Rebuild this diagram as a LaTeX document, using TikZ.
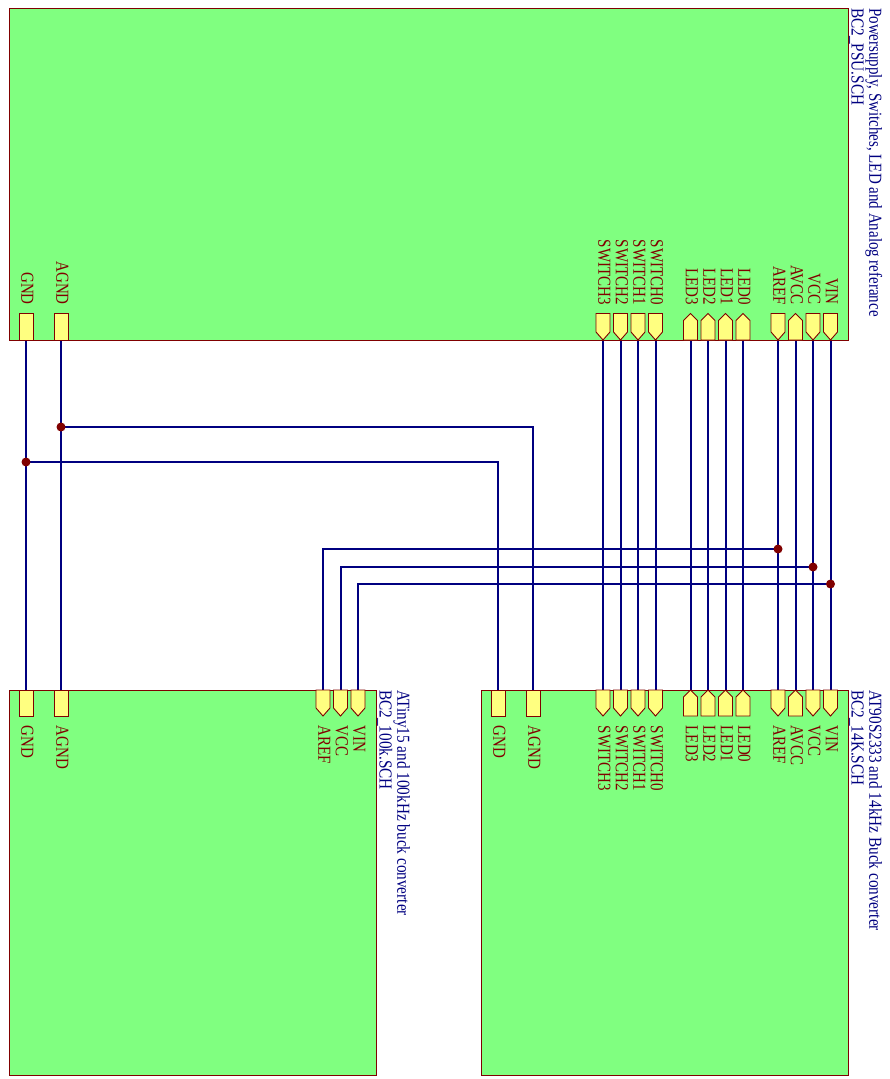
\documentclass[tikz,border=0pt]{standalone}
\usepackage{fontspec}
\usetikzlibrary{backgrounds}
\setmainfont{Liberation Serif}
\definecolor{sheetgreen}{HTML}{80FF80}
\definecolor{pinyellow}{HTML}{FFFF80}
\definecolor{maroonline}{HTML}{800000}
\definecolor{wirenavy}{HTML}{000080}
\tikzset{
  x=1pt,y=-1pt,
  sheetbox/.style={draw=maroonline,fill=sheetgreen,line width=0.8pt},
  pinshape/.style={draw=maroonline,fill=pinyellow,line width=0.9pt},
  wire/.style={draw=wirenavy,line width=2pt,line join=miter},
  junction/.style={circle,fill=maroonline,inner sep=0pt,minimum size=9pt},
  pinlabel/.style={rotate=-90,text=maroonline,inner sep=0pt,font=\fontsize{15}{15}\selectfont},
  titlelabel/.style={rotate=-90,text=wirenavy,inner sep=0pt,anchor=base west,font=\fontsize{15}{15}\selectfont},
}
\newcommand{\stretched}[1]{\scalebox{1}[1.22]{#1}}
\newcommand{\titlestretch}[1]{\scalebox{1.017}[1.22]{#1}}
\newcommand{\pinD}[5]{% down-pointing
  \draw[pinshape] (#2-7,#3) -- (#2+7,#3) -- (#2+7,#4-8) -- (#2,#4) -- (#2-7,#4-8) -- cycle;
  \coordinate (#1) at (#2,#5);}
\newcommand{\pinU}[5]{% up-pointing
  \draw[pinshape] (#2,#3) -- (#2+7,#3+7) -- (#2+7,#4) -- (#2-7,#4) -- (#2-7,#3+7) -- cycle;
  \coordinate (#1) at (#2,#5);}
\newcommand{\pinR}[5]{% plain
  \draw[pinshape] (#2-7,#3) rectangle (#2+7,#4);
  \coordinate (#1) at (#2,#5);}
\newcommand{\lblT}[3]{\node[pinlabel,anchor=base east] (#1) at (#2-4.6,305) {\stretched{#3}};}
\newcommand{\lblB}[3]{\node[pinlabel,anchor=base west] (#1) at (#2-4.6,725.5) {\stretched{#3}};}
\begin{document}
\begin{tikzpicture}
\useasboundingbox (0,0) rectangle (889,1079);
% sheets
\draw[sheetbox] (9,8) rectangle (848,340);
\draw[sheetbox] (9,690) rectangle (376,1075);
\draw[sheetbox] (481,690) rectangle (848,1075);
% titles
\node[titlelabel] (t1a) at (869.3,8) {\stretched{Powersupply, Switches, LED and Analog referance}};
\node[titlelabel] (t1b) at (851.7,8) {\titlestretch{BC2\_PSU.SCH}};
\node[titlelabel] (t2a) at (869.3,690) {\titlestretch{AT90S2333 and 14kHz Buck converter}};
\node[titlelabel] (t2b) at (851.7,690) {\titlestretch{BC2\_14K.SCH}};
\node[titlelabel] (t3a) at (397.3,690) {\titlestretch{ATiny15 and 100kHz buck converter}};
\node[titlelabel] (t3b) at (379.7,690) {\titlestretch{BC2\_100k.SCH}};
% top sheet pins
\pinR{Tgnd}{26}{313.5}{340}{340}
\pinR{Tagnd}{61}{313.5}{340}{340}
\pinD{Tsw3}{603}{313.5}{340}{340}
\pinD{Tsw2}{620.5}{313.5}{340}{340}
\pinD{Tsw1}{638}{313.5}{340}{340}
\pinD{Tsw0}{655.5}{313.5}{340}{340}
\pinU{Tled3}{690.5}{313.5}{340}{340}
\pinU{Tled2}{708}{313.5}{340}{340}
\pinU{Tled1}{725.5}{313.5}{340}{340}
\pinU{Tled0}{743}{313.5}{340}{340}
\pinD{Taref}{778}{313.5}{340}{340}
\pinU{Tavcc}{795.5}{313.5}{340}{340}
\pinD{Tvcc}{813}{313.5}{340}{340}
\pinD{Tvin}{830.5}{313.5}{340}{340}
\lblT{lTgnd}{26}{GND}
\lblT{lTagnd}{61}{AGND}
\lblT{lTsw3}{603}{SWITCH3}
\lblT{lTsw2}{620.5}{SWITCH2}
\lblT{lTsw1}{638}{SWITCH1}
\lblT{lTsw0}{655.5}{SWITCH0}
\lblT{lTled3}{690.5}{LED3}
\lblT{lTled2}{708}{LED2}
\lblT{lTled1}{725.5}{LED1}
\lblT{lTled0}{743}{LED0}
\lblT{lTaref}{778}{AREF}
\lblT{lTavcc}{795.5}{AVCC}
\lblT{lTvcc}{813}{VCC}
\lblT{lTvin}{830.5}{VIN}
% bottom-left sheet pins
\pinR{Lgnd}{26}{690}{716}{690}
\pinR{Lagnd}{61}{690}{716}{690}
\pinD{Laref}{323}{690}{716}{690}
\pinD{Lvcc}{340.5}{690}{716}{690}
\pinD{Lvin}{358}{690}{716}{690}
\lblB{lLgnd}{26}{GND}
\lblB{lLagnd}{61}{AGND}
\lblB{lLaref}{323}{AREF}
\lblB{lLvcc}{340.5}{VCC}
\lblB{lLvin}{358}{VIN}
% bottom-right sheet pins
\pinR{Rgnd}{498}{690}{716}{690}
\pinR{Ragnd}{533}{690}{716}{690}
\pinD{Rsw3}{603}{690}{716}{690}
\pinD{Rsw2}{620.5}{690}{716}{690}
\pinD{Rsw1}{638}{690}{716}{690}
\pinD{Rsw0}{655.5}{690}{716}{690}
\pinU{Rled3}{690.5}{690}{716}{690}
\pinU{Rled2}{708}{690}{716}{690}
\pinU{Rled1}{725.5}{690}{716}{690}
\pinU{Rled0}{743}{690}{716}{690}
\pinD{Raref}{778}{690}{716}{690}
\pinU{Ravcc}{795.5}{690}{716}{690}
\pinD{Rvcc}{813}{690}{716}{690}
\pinD{Rvin}{830.5}{690}{716}{690}
\lblB{lRgnd}{498}{GND}
\lblB{lRagnd}{533}{AGND}
\lblB{lRsw3}{603}{SWITCH3}
\lblB{lRsw2}{620.5}{SWITCH2}
\lblB{lRsw1}{638}{SWITCH1}
\lblB{lRsw0}{655.5}{SWITCH0}
\lblB{lRled3}{690.5}{LED3}
\lblB{lRled2}{708}{LED2}
\lblB{lRled1}{725.5}{LED1}
\lblB{lRled0}{743}{LED0}
\lblB{lRaref}{778}{AREF}
\lblB{lRavcc}{795.5}{AVCC}
\lblB{lRvcc}{813}{VCC}
\lblB{lRvin}{830.5}{VIN}
% junctions
\node[junction] (jagnd) at (61,427) {};
\node[junction] (jgnd) at (26,462) {};
\node[junction] (jaref) at (778,549) {};
\node[junction] (jvcc) at (813,567) {};
\node[junction] (jvin) at (830.5,584) {};
% wires, behind the junction dots
\begin{scope}[on background layer]
\foreach \a/\b in {Tgnd/Lgnd,Tagnd/Lagnd,Tsw3/Rsw3,Tsw2/Rsw2,Tsw1/Rsw1,Tsw0/Rsw0,
  Tled3/Rled3,Tled2/Rled2,Tled1/Rled1,Tled0/Rled0,Taref/Raref,Tavcc/Ravcc,Tvcc/Rvcc,Tvin/Rvin}
  \draw[wire] (\a) -- (\b);
\draw[wire] (jagnd.center) -| (Ragnd);
\draw[wire] (jgnd.center) -| (Rgnd);
\draw[wire] (jaref.center) -| (Laref);
\draw[wire] (jvcc.center) -| (Lvcc);
\draw[wire] (jvin.center) -| (Lvin);
\end{scope}
\end{tikzpicture}
\end{document}
